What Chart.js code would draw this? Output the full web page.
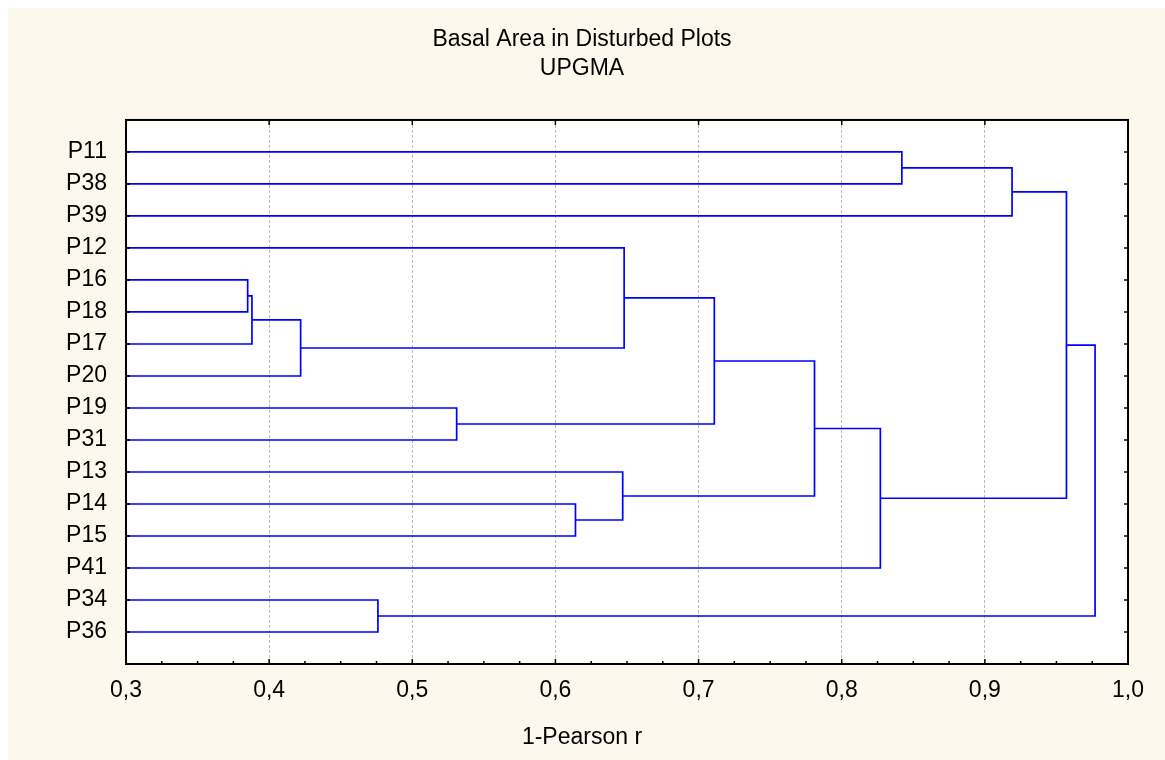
<!DOCTYPE html>
<html>
<head>
<meta charset="utf-8">
<script src="https://cdn.jsdelivr.net/npm/chart.js@4.4.1/dist/chart.umd.min.js"></script>
<style>
  html { background: #fdf8ed; overflow: hidden; }
  body { margin: 0; border-left: 8px solid #fff; border-top: 8px solid #fff; overflow: hidden; }
  #dendro { display: block; }
</style>
</head>
<body>
<canvas id="dendro" width="1157" height="752"></canvas>
<script>
const leaves = ['P11', 'P38', 'P39', 'P12', 'P16', 'P18', 'P17', 'P20', 'P19', 'P31', 'P13', 'P14', 'P15', 'P41', 'P34', 'P36'];
// ids 0-15 are the leaves, merge k creates cluster 16 + k
const mergeLeft = [4, 16, 17, 14, 8, 11, 10, 3, 23, 24, 25, 0, 27, 28, 29];
const mergeRight = [5, 6, 7, 15, 9, 12, 21, 18, 20, 22, 13, 1, 2, 26, 19];
const mergeHeight = [0.385, 0.388, 0.422, 0.476, 0.531, 0.614, 0.647, 0.648, 0.711, 0.781, 0.827, 0.842, 0.919, 0.957, 0.977];
const xTicks = [0.3, 0.4, 0.5, 0.6, 0.7, 0.8, 0.9, 1.0];

const font = { family: '"Liberation Sans", Arial, sans-serif', size: 23, weight: 'normal' };

// leaf and cluster positions, clusters sit midway between their children
const nodeX = leaves.map(() => xTicks[0]);
const nodeY = leaves.map((_, i) => i);
const links = mergeHeight.map((h, k) => {
  const a = mergeLeft[k], b = mergeRight[k];
  nodeX.push(h);
  nodeY.push((nodeY[a] + nodeY[b]) / 2);
  return {
    data: [
      { x: nodeX[a], y: nodeY[a] },
      { x: h, y: nodeY[a] },
      { x: h, y: nodeY[b] },
      { x: nodeX[b], y: nodeY[b] }
    ],
    showLine: true,
    borderColor: '#0000ff',
    borderWidth: 1.7,
    pointRadius: 0,
    tension: 0
  };
});

const frame = {
  id: 'frame',
  beforeDraw(chart) {
    const { ctx, chartArea: a } = chart;
    ctx.save();
    ctx.fillStyle = '#fff';
    ctx.fillRect(a.left, a.top, a.right - a.left, a.bottom - a.top);
    ctx.restore();
  },
  afterDraw(chart) {
    const { ctx, chartArea: a, scales: { x, y } } = chart;
    ctx.save();
    ctx.strokeStyle = '#000';
    ctx.lineWidth = 2;
    ctx.strokeRect(a.left, a.top, a.right - a.left, a.bottom - a.top);
    ctx.lineWidth = 1.5;
    ctx.beginPath();
    xTicks.forEach((v, i) => {
      const px = x.getPixelForValue(v);
      ctx.moveTo(px, a.top); ctx.lineTo(px, a.top + 5);
      ctx.moveTo(px, a.bottom); ctx.lineTo(px, a.bottom - 5);
      if (i < xTicks.length - 1) {
        for (let q = 1; q < 4; q++) {
          const mx = x.getPixelForValue(v + q * (xTicks[i + 1] - v) / 4);
          ctx.moveTo(mx, a.bottom); ctx.lineTo(mx, a.bottom - 3);
        }
      }
    });
    leaves.forEach((_, i) => {
      const py = y.getPixelForValue(i);
      ctx.moveTo(a.left, py); ctx.lineTo(a.left + 4, py);
      ctx.moveTo(a.right, py); ctx.lineTo(a.right - 4, py);
    });
    ctx.stroke();
    ctx.restore();
  }
};

new Chart(document.getElementById('dendro'), {
  type: 'scatter',
  data: { datasets: links },
  options: {
    responsive: false,
    animation: false,
    layout: { padding: { left: 28, right: 37, top: 0, bottom: 0 } },
    plugins: {
      legend: { display: false },
      tooltip: { enabled: false },
      title: {
        display: true,
        text: ['Basal Area in Disturbed Plots', 'UPGMA'],
        color: '#000',
        font: { ...font, lineHeight: 1.26 },
        padding: { top: 17, bottom: 37 }
      },
      subtitle: {
        display: true,
        position: 'bottom',
        text: '1-Pearson r',
        color: '#000',
        font: { ...font, lineHeight: 1.2 },
        padding: { top: 10, bottom: 9 }
      }
    },
    scales: {
      x: {
        type: 'linear',
        min: xTicks[0],
        max: xTicks[xTicks.length - 1],
        afterBuildTicks: s => { s.ticks = xTicks.map(v => ({ value: v })); },
        afterFit: s => { s.height = 49.4; },
        ticks: {
          callback: v => v.toFixed(1).replace('.', ','),
          color: '#000',
          font: font,
          padding: 13,
          maxRotation: 0,
          autoSkip: false
        },
        grid: {
          drawTicks: false,
          lineWidth: 1,
          color: c => (c.index === 0 || c.index === xTicks.length - 1) ? 'rgba(0,0,0,0)' : '#b9b9b9'
        },
        border: { display: false, dash: [3, 2] }
      },
      y: {
        type: 'linear',
        reverse: true,
        min: -1,
        max: leaves.length,
        afterBuildTicks: s => { s.ticks = leaves.map((_, i) => ({ value: i })); },
        afterFit: s => { s.width = 90; },
        ticks: {
          callback: v => leaves[v],
          color: '#000',
          font: font,
          padding: 19,
          autoSkip: false
        },
        grid: { display: false, drawTicks: false },
        border: { display: false }
      }
    }
  },
  plugins: [frame]
});
</script>
</body>
</html>
